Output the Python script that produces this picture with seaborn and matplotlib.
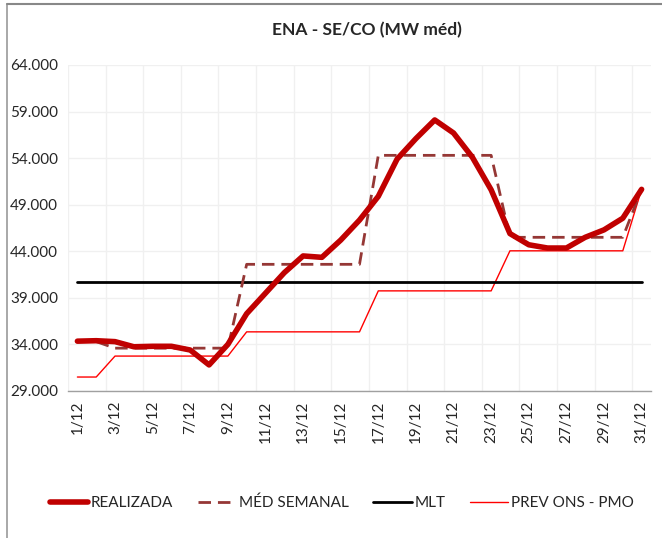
import numpy as np
import pandas as pd
import matplotlib.pyplot as plt
import seaborn as sns
from matplotlib.lines import Line2D

# Data (MW méd), days of December
days = list(range(1, 32))
day_labels = [f"{d}/12" for d in days]

realizada = [34350, 34400, 34300, 33750, 33800, 33800, 33400, 31800, 34000, 37300,
             39500, 41700, 43500, 43350, 45200, 47350, 49900, 53900, 56100, 58100,
             56700, 54100, 50600, 45900, 44700, 44350, 44350, 45500, 46300, 47550,
             50650]
med_semanal = [34400, 34300, 33600, 33600, 33600, 33600, 33600, 33600, 33600, 42600,
               42600, 42600, 42600, 42600, 42600, 42600, 54300, 54300, 54300, 54300,
               54300, 54300, 54300, 45500, 45500, 45500, 45500, 45500, 45500, 45500,
               50650]
mlt = [40700] * 31
prev_ons = [30500, 30500, 32750, 32750, 32750, 32750, 32750, 32750, 32750, 35350,
            35350, 35350, 35350, 35350, 35350, 35350, 39750, 39750, 39750, 39750,
            39750, 39750, 39750, 44050, 44050, 44050, 44050, 44050, 44050, 44050,
            50650]

df = pd.DataFrame({'dia': days, 'REALIZADA': realizada, 'MÉD SEMANAL': med_semanal,
                   'MLT': mlt, 'PREV ONS - PMO': prev_ons})

sns.set_style('white')
plt.rcParams['font.family'] = ['Lato', 'DejaVu Sans']

dash = (0, (4.5, 2.5))

fig = plt.figure(figsize=(6.62, 5.38), dpi=100)
ax = fig.add_axes([68 / 662, 1 - 391 / 538, (651 - 68) / 662, (391 - 65) / 538])

sns.lineplot(data=df, x='dia', y='PREV ONS - PMO', ax=ax, color='#FF0000', linewidth=1.0)
sns.lineplot(data=df, x='dia', y='MLT', ax=ax, color='black', linewidth=2.0)
sns.lineplot(data=df, x='dia', y='MÉD SEMANAL', ax=ax, color='#953735', linewidth=2.0,
             linestyle=dash)
sns.lineplot(data=df, x='dia', y='REALIZADA', ax=ax, color='#C00000', linewidth=4.0,
             solid_joinstyle='round', solid_capstyle='round')

ax.set_xlim(0.5, 31.5)
ax.set_ylim(29000, 64000)
ax.set_yticks(np.arange(29000, 64001, 5000))
ax.set_yticklabels([f"{v // 1000}.000" for v in range(29000, 64001, 5000)], fontsize=11)
ax.set_xticks(days[::2])
ax.set_xticklabels(day_labels[::2], rotation=90, fontsize=11)
ax.set_xticks(np.arange(0.5, 31, 2), minor=True)
ax.tick_params(axis='both', which='both', length=0, pad=7)
ax.grid(False)
ax.grid(True, axis='y', which='major', color='#F0F0F0', linewidth=1)
ax.grid(True, axis='x', which='minor', color='#F0F0F0', linewidth=1)
ax.set_xlabel('')
ax.set_ylabel('')
for s in ['top', 'right', 'left']:
    ax.spines[s].set_visible(False)
ax.spines['bottom'].set_color('#A0A0A0')
ax.spines['bottom'].set_linewidth(1)

fig.text(367 / 662, 1 - 30 / 538, 'ENA - SE/CO (MW méd)', ha='center', va='center',
         fontsize=12.5, fontweight='bold')

handles = [Line2D([], [], color='#C00000', linewidth=4, solid_capstyle='round'),
           Line2D([], [], color='#953735', linewidth=2, linestyle=dash),
           Line2D([], [], color='black', linewidth=2),
           Line2D([], [], color='#FF0000', linewidth=1)]
labels = ['REALIZADA', 'MÉD SEMANAL', 'MLT', 'PREV ONS - PMO']
fig.legend(handles, labels, loc='center', bbox_to_anchor=(342 / 662, 1 - 503 / 538),
           ncol=4, frameon=False, fontsize=11, handlelength=2.5, handletextpad=0.2,
           columnspacing=1.6)

# chart area border (top and left edges visible)
fig.add_artist(Line2D([7 / 662, 7 / 662], [0, 1 - 4 / 538], color='#999999', linewidth=1.2))
fig.add_artist(Line2D([7 / 662, 1], [1 - 4 / 538, 1 - 4 / 538], color='#888888', linewidth=1.5))

fig.savefig('out.png', dpi=100)
